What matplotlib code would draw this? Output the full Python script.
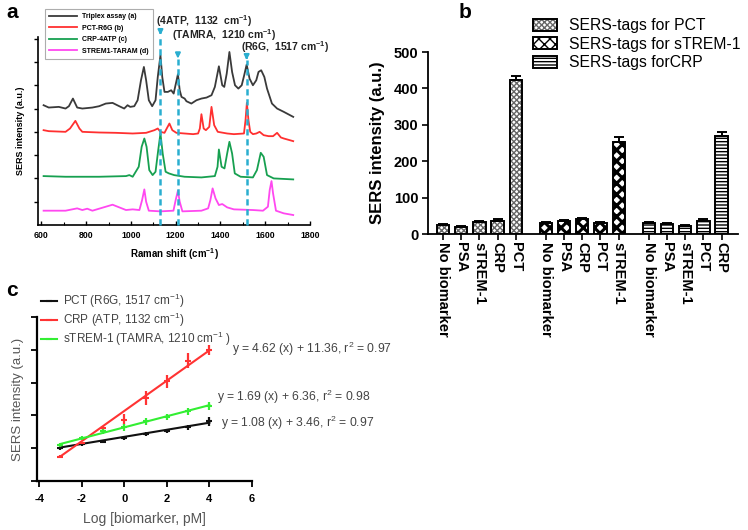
import matplotlib
matplotlib.use('Agg')
import matplotlib.pyplot as plt
from matplotlib.patches import Patch
from matplotlib.lines import Line2D
import numpy as np

plt.rcParams['font.family'] = ['Liberation Sans', 'DejaVu Sans']
plt.rcParams['mathtext.fontset'] = 'custom'
plt.rcParams['mathtext.rm'] = 'Liberation Sans'
plt.rcParams['mathtext.bf'] = 'Liberation Sans:bold'
plt.rcParams['mathtext.it'] = 'Liberation Sans:italic'
plt.rcParams['axes.unicode_minus'] = False

# ---------------- Panel a data (Raman spectra) ----------------
shift_triplex = [610, 633, 678, 708, 723, 741, 760, 783, 828, 858, 888, 918, 948, 970, 985, 997, 1015, 1030, 1045, 1058,
                 1068, 1080, 1095, 1110, 1120, 1132, 1140, 1150, 1165, 1180, 1191, 1210, 1218, 1226, 1240, 1248, 1270, 1293,
                 1315, 1338, 1360, 1375, 1393, 1408, 1417, 1428, 1440, 1452, 1465, 1480, 1495, 1506, 1517, 1530, 1545, 1560,
                 1570, 1582, 1596, 1608, 1630, 1653, 1683, 1725]
int_triplex = [36.0, 35.3, 35.5, 35.0, 35.7, 38.0, 35.3, 35.0, 35.3, 35.7, 36.5, 36.7, 35.7, 35.0, 36.0, 35.5, 35.7, 37.5, 43.5, 47.5,
               43.5, 37.5, 35.7, 37.5, 44.5, 51.0, 44.5, 40.0, 40.0, 40.5, 39.5, 45.3, 40.5, 38.5, 38.0, 37.2, 36.5, 37.5,
               38.0, 38.3, 39.0, 41.5, 47.7, 42.0, 41.5, 45.5, 52.0, 46.0, 42.0, 41.0, 42.0, 45.0, 48.2, 44.0, 42.0, 43.5,
               46.0, 46.5, 44.5, 41.0, 36.5, 35.0, 34.0, 32.5]

shift_pct = [610, 633, 708, 728, 752, 770, 783, 858, 933, 1008, 1068, 1105, 1120, 1132, 1150, 1160, 1172, 1185, 1203, 1240,
             1278, 1300, 1308, 1315, 1325, 1335, 1350, 1360, 1372, 1388, 1430, 1460, 1505, 1512, 1518, 1525, 1533, 1545,
             1560, 1575, 1593, 1615, 1635, 1653, 1670, 1683, 1725]
int_pct = [28.5, 28.2, 28.0, 29.0, 31.3, 29.0, 28.0, 27.8, 27.7, 27.5, 27.7, 28.5, 29.0, 28.0, 27.7, 29.0, 30.5, 28.5, 27.7, 27.5,
           27.3, 27.5, 29.0, 33.3, 29.0, 28.5, 29.5, 35.5, 30.0, 28.0, 27.5, 27.3, 27.5, 31.5, 36.7, 31.5, 28.0, 27.3,
           27.5, 28.0, 27.0, 26.7, 26.7, 27.7, 26.3, 26.0, 25.2]

shift_crp = [610, 708, 858, 978, 993, 1008, 1035, 1048, 1060, 1070, 1082, 1097, 1110, 1122, 1132, 1142, 1155, 1170, 1193, 1240,
             1315, 1375, 1387, 1393, 1405, 1418, 1430, 1440, 1452, 1464, 1490, 1545, 1563, 1580, 1593, 1608, 1638, 1725]
int_crp = [14.7, 14.5, 14.5, 14.7, 15.0, 14.5, 17.5, 23.5, 26.0, 23.5, 16.5, 15.0, 16.0, 22.5, 27.5, 21.5, 16.0, 15.5, 15.0, 14.5,
           14.3, 14.7, 17.5, 22.7, 17.5, 17.0, 21.5, 25.0, 21.5, 15.5, 14.5, 14.3, 16.5, 21.7, 20.5, 15.0, 14.0, 13.7]

shift_strem = [610, 708, 760, 783, 805, 828, 888, 918, 948, 978, 1008, 1038, 1050, 1060, 1068, 1080, 1132, 1190, 1200, 1210,
               1218, 1230, 1315, 1345, 1355, 1365, 1378, 1393, 1408, 1430, 1460, 1545, 1590, 1612, 1620, 1628, 1635, 1648,
               1683, 1725]
int_strem = [4.3, 4.3, 5.0, 4.5, 4.9, 4.3, 5.5, 6.1, 5.3, 4.5, 4.7, 4.5, 7.5, 10.7, 7.0, 4.3, 4.1, 4.3, 7.5, 10.3,
             7.0, 4.1, 4.3, 5.0, 7.5, 11.0, 8.0, 6.0, 6.3, 5.3, 4.7, 4.5, 4.3, 5.5, 10.5, 13.2, 9.5, 4.3, 3.5, 3.0]

spectra_labels = ['Triplex assay (a)', 'PCT-R6G (b)', 'CRP-4ATP (c)', 'STREM1-TARAM (d)']
marker_peaks = [1132, 1210, 1517]
marker_names = ['4ATP', 'TAMRA', 'R6G']
marker_tips = [57.0, 50.0, 49.5]

# ---------------- Panel b data ----------------
labels_pct = ['No biomarker', 'PSA', 'sTREM-1', 'CRP', 'PCT']
vals_pct = [24, 20, 33, 36, 422]
err_pct = [3, 3, 4, 4, 13]
labels_strem = ['No biomarker', 'PSA', 'CRP', 'PCT', 'sTREM-1']
vals_strem = [31, 35, 40, 29, 253]
err_strem = [3, 3, 4, 3, 14]
labels_crp = ['No biomarker', 'PSA', 'sTREM-1', 'PCT', 'CRP']
vals_crp = [30, 28, 23, 36, 269]
err_crp = [3, 3, 3, 4, 12]
group_names = ['SERS-tags for PCT', 'SERS-tags for sTREM-1', 'SERS-tags forCRP']

# ---------------- Panel c data ----------------
log_conc = [-3, -2, -1, 0, 1, 2, 3, 4]
pct_sig = [0.0, 1.2, 2.0, 3.1, 4.3, 5.3, 6.4, 8.2]
pct_err = [0.5, 0.5, 0.5, 0.6, 0.6, 0.6, 0.8, 1.3]
crp_sig = [-2.6, 1.5, 6.1, 8.7, 15.3, 20.4, 26.6, 29.9]
crp_err = [0.5, 0.5, 0.8, 1.7, 2.0, 2.0, 2.3, 1.5]
strem_sig = [1.0, 3.1, 5.1, 6.4, 8.2, 9.5, 11.2, 12.8]
strem_err = [0.5, 0.5, 0.8, 1.1, 1.0, 0.8, 1.2, 1.3]
fit_pct = (1.08, 3.46, 0.97)
fit_crp = (4.62, 11.36, 0.97)
fit_strem = (1.69, 6.36, 0.98)

# ---------------- Figure ----------------
W, H = 748, 530
fig = plt.figure(figsize=(W / 100, H / 100), dpi=100)


def fx(p):
    return p / W


def fy(p):
    return 1 - p / H


# ================= Panel a =================
axA = fig.add_axes([fx(38), fy(225), (310 - 38) / W, (225 - 37) / H])
colsA = ['#3a3a3a', '#ff3030', '#17a050', '#ff48f0']
for sx, sy, c, lab in zip([shift_triplex, shift_pct, shift_crp, shift_strem],
                          [int_triplex, int_pct, int_crp, int_strem], colsA, spectra_labels):
    axA.plot(sx, sy, color=c, lw=1.3, label=lab)
axA.set_xlim(585, 1800)
axA.set_ylim(0, 56.5)
for s in ['top', 'right']:
    axA.spines[s].set_visible(False)
for s in ['left', 'bottom']:
    axA.spines[s].set_linewidth(1.2)
axA.set_xticks([600, 800, 1000, 1200, 1400, 1600, 1800])
axA.set_xticks(np.arange(700, 1800, 200), minor=True)
axA.set_yticks([7, 14, 21, 28, 35, 42, 49, 56])
axA.set_yticklabels([])
axA.tick_params(axis='x', direction='in', length=3, width=1, labelsize=6.3, pad=4)
axA.tick_params(axis='x', which='minor', direction='in', length=2, width=0.8)
axA.tick_params(axis='y', direction='out', length=3, width=1)
for t in axA.get_xticklabels():
    t.set_fontweight('bold')
axA.set_xlabel('Raman shift (cm$^{\\mathbf{-1}}$)', fontsize=7, fontweight='bold', labelpad=5)
axA.set_ylabel('SERS intensity (a.u.)', fontsize=6.5, fontweight='bold', labelpad=3)

dash_c = '#2aaed0'
for xp, tip in zip(marker_peaks, marker_tips):
    axA.plot([xp, xp], [0, tip], color=dash_c, lw=1.8, ls=(0, (2.5, 1.5)), clip_on=False, zorder=5)
    axA.annotate('', xy=(xp, tip - 0.8), xytext=(xp, tip + 2.2),
                 arrowprops=dict(arrowstyle='-|>', color=dash_c, lw=1.5, mutation_scale=7),
                 annotation_clip=False)

fig.text(fx(156), fy(21), '(4ATP,  1132  cm$^{\\mathbf{-1}}$)', fontsize=7.5, fontweight='bold',
         ha='left', va='center', color='#222222')
fig.text(fx(172), fy(35), '(TAMRA,  1210 cm$^{\\mathbf{-1}}$)', fontsize=7.5, fontweight='bold',
         ha='left', va='center', color='#222222')
fig.text(fx(241), fy(47), '(R6G,  1517 cm$^{\\mathbf{-1}}$)', fontsize=7.5, fontweight='bold',
         ha='left', va='center', color='#222222')

legA = fig.legend(handles=axA.get_lines(), labels=spectra_labels, loc='upper left',
                  bbox_to_anchor=(fx(45), fy(9)), borderaxespad=0,
                  prop={'weight': 'bold', 'size': 5}, handlelength=4, handletextpad=0.8,
                  labelspacing=0.65, frameon=True, fancybox=False, borderpad=0.6)
legA.get_frame().set_edgecolor('#999999')
legA.get_frame().set_linewidth(0.8)

# ================= Panel b =================
axB = fig.add_axes([fx(428), fy(234), (738 - 428) / W, (234 - 52) / H])
gap = 0.65
hatches = ['xxxxxx', 'xxx', '-----']
hatch_cols = ['#666666', '#000000', '#000000']
hatch_lws = [1.0, 2.2, 1.0]
all_pos, all_labels = [], []
handlesB = []
groups = [(labels_pct, vals_pct, err_pct), (labels_strem, vals_strem, err_strem), (labels_crp, vals_crp, err_crp)]
for g, (labs, vals, errs) in enumerate(groups):
    pos = np.arange(len(vals)) + g * (len(vals) + gap)
    with plt.rc_context({'hatch.linewidth': hatch_lws[g]}):
        axB.bar(pos, vals, width=0.68, color='white', edgecolor=hatch_cols[g], hatch=hatches[g], lw=0, zorder=2)
        handlesB.append(Patch(facecolor='white', edgecolor=hatch_cols[g], hatch=hatches[g], lw=0))
    axB.bar(pos, vals, width=0.68, fill=False, edgecolor='black', lw=1.4, zorder=3)
    axB.errorbar(pos, vals, yerr=[np.zeros(len(errs)), errs], fmt='none', ecolor='black',
                 elinewidth=1.4, capsize=3.5, capthick=1.4, zorder=4)
    all_pos.extend(pos)
    all_labels.extend(labs)
axB.set_xlim(-0.82, 16.2)
axB.set_ylim(0, 500)
axB.set_xticks(all_pos)
axB.set_xticklabels(all_labels, rotation=270, fontsize=10.5, fontweight='bold', va='top', ha='center')
axB.set_yticks([0, 100, 200, 300, 400, 500])
axB.tick_params(axis='y', direction='out', length=4, width=1.2, labelsize=10.5, pad=3)
axB.tick_params(axis='x', direction='out', length=4, width=1.2, pad=2)
for t in axB.get_yticklabels():
    t.set_fontweight('bold')
for s in ['top', 'right']:
    axB.spines[s].set_visible(False)
for s in ['left', 'bottom']:
    axB.spines[s].set_linewidth(1.3)
axB.set_ylabel('SERS intensity (a.u.)', fontsize=12, fontweight='bold', labelpad=6)

outlineB = [Patch(fill=False, edgecolor='black', lw=1.4) for i in range(3)]
legB = fig.legend(handles=list(zip(handlesB, outlineB)), labels=group_names, loc='upper left',
                  bbox_to_anchor=(fx(527), fy(12)), borderaxespad=0, fontsize=11.3,
                  handlelength=1.5, handleheight=0.8, handletextpad=0.8, labelspacing=0.22, frameon=False)

# ================= Panel c =================
axC = fig.add_axes([fx(37), fy(481), (252 - 37) / W, (481 - 317) / H])
xfit = np.array([log_conc[0], log_conc[-1]])
seriesC = [(pct_sig, pct_err, fit_pct, '#111111', 'PCT (R6G, 1517 cm$^{-1}$)'),
           (crp_sig, crp_err, fit_crp, '#ff3333', 'CRP (ATP, 1132 cm$^{-1}$)'),
           (strem_sig, strem_err, fit_strem, '#33ee33', 'sTREM-1 (TAMRA, 1210 cm$^{-1}$ )')]
handlesC = []
for sig, err, fit, c, lab in seriesC:
    axC.plot(xfit, np.polyval(fit[:2], xfit), color=c, lw=1.5, zorder=2)
    axC.errorbar(log_conc, sig, yerr=err, fmt='_', color=c, ms=5, mew=1.5, elinewidth=1.6, capsize=0, zorder=3)
    handlesC.append(Line2D([], [], color=c, lw=1.5, marker='_', ms=5, mew=1.5))
axC.set_xlim(-4.1, 6)
axC.set_ylim(-10, 40)
axC.set_xticks([-4, -2, 0, 2, 4, 6])
axC.set_yticks([-10, 0, 10, 20, 30, 40])
axC.set_yticklabels([])
axC.tick_params(axis='x', direction='out', length=4, width=1.3, labelsize=8, pad=5)
axC.tick_params(axis='y', direction='out', length=4, width=1.3)
for t in axC.get_xticklabels():
    t.set_fontweight('bold')
for s in ['top', 'right']:
    axC.spines[s].set_visible(False)
for s in ['left', 'bottom']:
    axC.spines[s].set_linewidth(1.6)
axC.set_xlabel('Log [biomarker, pM]', fontsize=10, color='#555555', labelpad=6)
axC.set_ylabel('SERS intensity (a.u.)', fontsize=9.5, color='#555555', labelpad=2)

fig.legend(handles=handlesC, labels=[s[4] for s in seriesC], loc='upper left',
           bbox_to_anchor=(fx(36), fy(287)), borderaxespad=0, fontsize=8.5,
           handlelength=1.4, handletextpad=0.5, labelspacing=0.08, frameon=False, labelcolor='#444444')

eq_pos = [(fit_crp, 232, 349), (fit_strem, 217, 397), (fit_pct, 221, 423)]
for fit, px_, py_ in eq_pos:
    fig.text(fx(px_), fy(py_), 'y = %.2f (x) + %.2f, r$^2$ = %.2f' % fit, fontsize=8.7,
             color='#444444', ha='left', va='center')

# panel letters
fig.text(fx(12), fy(13), 'a', fontsize=15, fontweight='bold', ha='center', va='center')
fig.text(fx(465), fy(13), 'b', fontsize=15, fontweight='bold', ha='center', va='center')
fig.text(fx(12), fy(291), 'c', fontsize=15, fontweight='bold', ha='center', va='center')

fig.savefig('out.png', dpi=100)
